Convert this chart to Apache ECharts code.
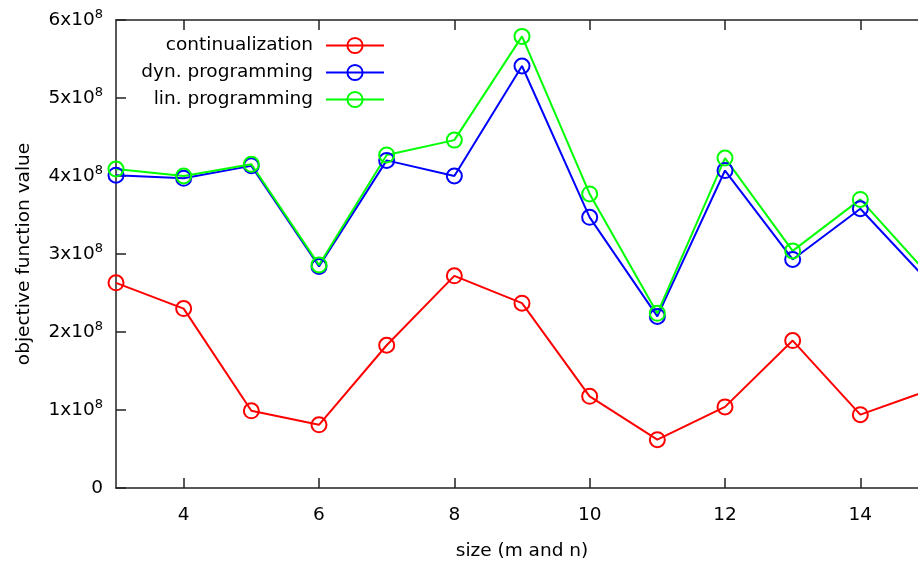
<!DOCTYPE html>
<html>
<head>
<meta charset="utf-8">
<script src="https://cdn.jsdelivr.net/npm/echarts@6/dist/echarts.min.js"></script>
<style>html,body{margin:0;padding:0;background:#fff;}#c{width:918px;height:570px;}</style>
</head>
<body>
<div id="c"></div>
<script>
var sizes = [3, 4, 5, 6, 7, 8, 9, 10, 11, 12, 13, 14, 15];
var continualization = [2.63e8, 2.30e8, 0.99e8, 0.81e8, 1.83e8, 2.72e8, 2.37e8, 1.175e8, 0.62e8, 1.04e8, 1.89e8, 0.94e8, 1.25e8];
var dynProgramming = [4.01e8, 3.97e8, 4.13e8, 2.84e8, 4.20e8, 4.00e8, 5.41e8, 3.47e8, 2.20e8, 4.07e8, 2.93e8, 3.58e8, 2.65e8];
var linProgramming = [4.09e8, 4.00e8, 4.15e8, 2.86e8, 4.27e8, 4.46e8, 5.79e8, 3.77e8, 2.24e8, 4.23e8, 3.04e8, 3.70e8, 2.74e8];
var xTicks = [4, 6, 8, 10, 12, 14];
var seriesNames = ['continualization', 'dyn. programming', 'lin. programming'];
var seriesColors = ['#ff0000', '#0000ff', '#00ff00'];

function pairs(vals) { return sizes.map(function (s, i) { return [s, vals[i]]; }); }

var FONT = 'DejaVu Sans';
var FS = 18.5;
var chart = echarts.init(document.getElementById('c'), null, { renderer: 'canvas' });
var axisLineStyle = { color: '#222', width: 1.5 };
function mkSeries(name, vals, color) {
  return {
    name: name, type: 'line', data: pairs(vals),
    symbol: 'circle', symbolSize: 15, showSymbol: true,
    color: color,
    lineStyle: { color: color, width: 2 },
    itemStyle: { color: 'rgba(255,255,255,0)', borderColor: color, borderWidth: 2 },
    emphasis: { disabled: true },
    animation: false, clip: true
  };
}
chart.setOption({
  animation: false,
  backgroundColor: '#fff',
  textStyle: { fontFamily: FONT },
  grid: { left: 116, top: 20, width: 812, height: 468, containLabel: false, outerBoundsMode: 'none' },
  legend: {
    orient: 'vertical', align: 'right', right: 533, top: 36, padding: 0,
    itemWidth: 58, itemHeight: 19, itemGap: 8,
    textStyle: { fontFamily: FONT, fontSize: FS, lineHeight: 19, color: '#000', padding: [0, 8, 0, 0] },
    data: seriesNames
  },
  xAxis: [{
    type: 'value', min: 3, max: 15, position: 'bottom',
    name: 'size (m and n)', nameLocation: 'middle', nameGap: 54,
    nameTextStyle: { fontFamily: FONT, fontSize: FS, color: '#000' },
    axisLine: { show: true, onZero: false, lineStyle: axisLineStyle },
    axisTick: { show: true, inside: true, length: 10, lineStyle: axisLineStyle, customValues: xTicks },
    axisLabel: { fontFamily: FONT, fontSize: FS, color: '#000', margin: 18, customValues: xTicks },
    splitLine: { show: false }
  }, {
    type: 'value', min: 3, max: 15, position: 'top',
    axisLine: { show: true, onZero: false, lineStyle: axisLineStyle },
    axisTick: { show: true, inside: true, length: 10, lineStyle: axisLineStyle, customValues: xTicks },
    axisLabel: { show: false }, splitLine: { show: false }
  }],
  yAxis: [{
    type: 'value', min: 0, max: 6e8, interval: 1e8, position: 'left',
    name: 'objective function value', nameLocation: 'middle', nameGap: 82,
    nameTextStyle: { fontFamily: FONT, fontSize: FS, color: '#000' },
    axisLine: { show: true, onZero: false, lineStyle: axisLineStyle },
    axisTick: { show: true, inside: true, length: 10, lineStyle: axisLineStyle },
    axisLabel: {
      margin: 13, color: '#000',
      formatter: function (v) { return v === 0 ? '{m|0}' : '{m|' + (v / 1e8) + 'x10}{s|8}'; },
      rich: {
        m: { fontFamily: FONT, fontSize: FS, color: '#000' },
        s: { fontFamily: FONT, fontSize: 13, color: '#000', padding: [0, 0, 10, 0] }
      }
    },
    splitLine: { show: false }
  }, {
    type: 'value', min: 0, max: 6e8, interval: 1e8, position: 'right',
    axisLine: { show: true, onZero: false, lineStyle: axisLineStyle },
    axisTick: { show: true, inside: true, length: 10, lineStyle: axisLineStyle },
    axisLabel: { show: false }, splitLine: { show: false }
  }],
  series: [
    mkSeries(seriesNames[0], continualization, seriesColors[0]),
    mkSeries(seriesNames[1], dynProgramming, seriesColors[1]),
    mkSeries(seriesNames[2], linProgramming, seriesColors[2])
  ]
});
</script>
</body>
</html>
